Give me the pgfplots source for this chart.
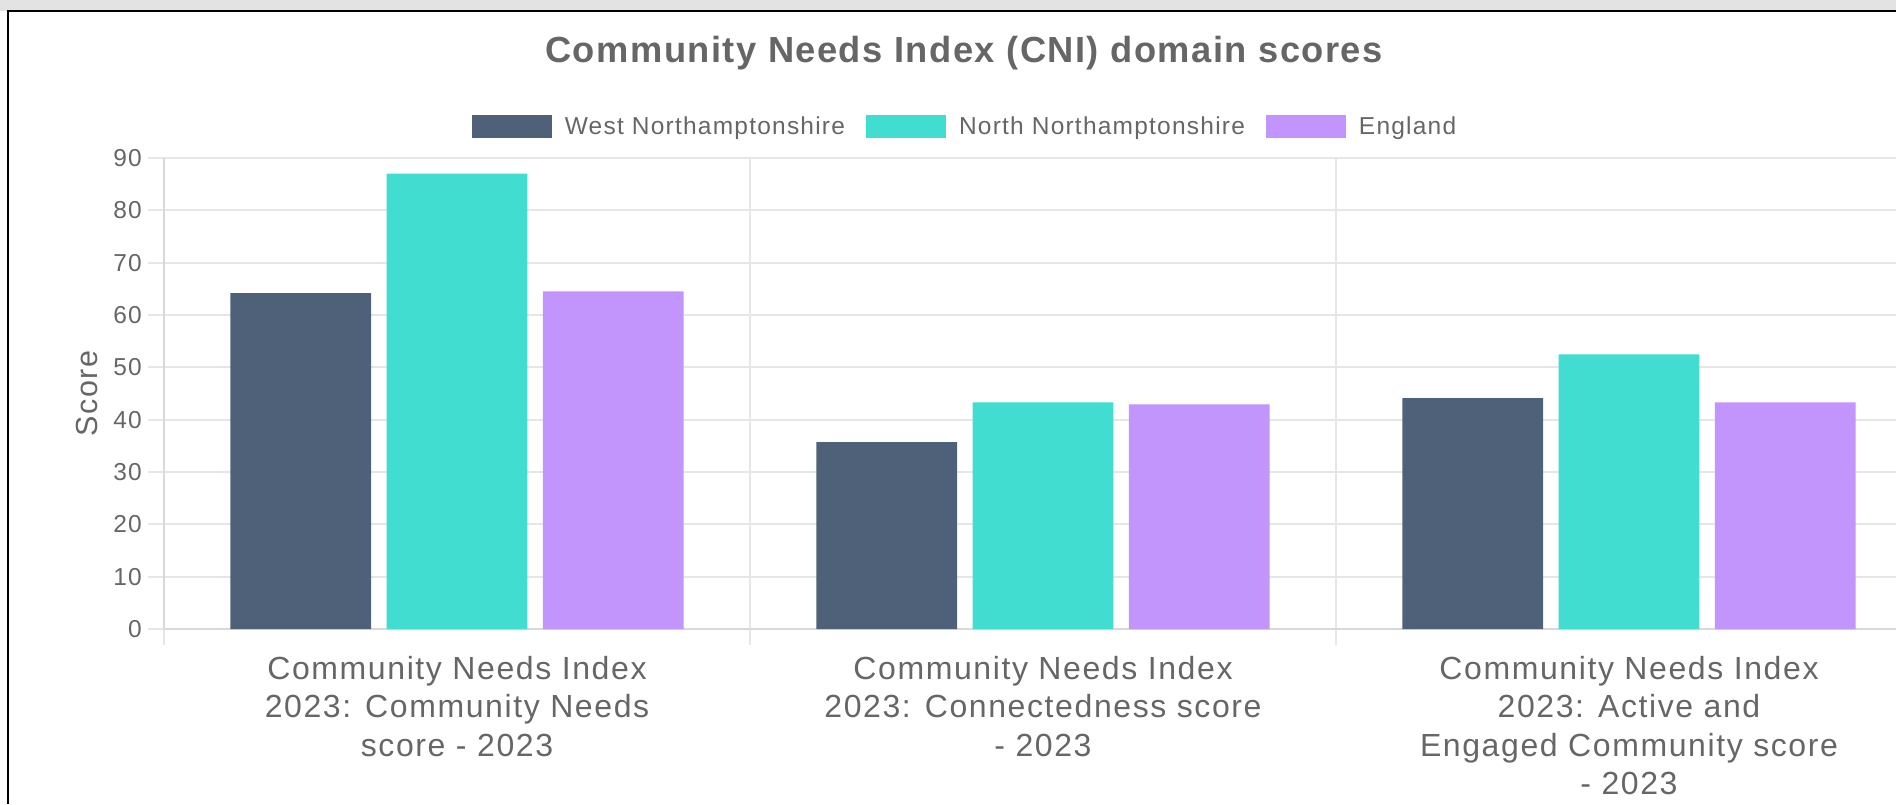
\documentclass[border=0pt]{standalone}
\usepackage{pgfplots}
\pgfplotsset{compat=1.18}
\usepackage{fontspec}
\setmainfont{Liberation Sans}[LetterSpace=5]
\newfontfamily\titlefam{Liberation Sans}[LetterSpace=4]
\newfontfamily\xlabfam{Liberation Sans}[LetterSpace=5]
\definecolor{westc}{HTML}{4F6079}
\definecolor{northc}{HTML}{40DDD0}
\definecolor{engc}{HTML}{C295FC}
\definecolor{textc}{HTML}{666666}
\definecolor{gridc}{HTML}{E6E6E6}
\definecolor{axisc}{HTML}{D9D9D9}
\definecolor{framegray}{HTML}{E3E3E3}
\begin{document}
\begin{tikzpicture}[x=1pt,y=1pt]
\useasboundingbox (0pt,0pt) rectangle (1896pt,804pt);
\fill[framegray] (0pt,793pt) rectangle (1896pt,804pt);
\draw[black,line width=2pt] (8pt,0pt) -- (8pt,793pt) -- (1896pt,793pt);
\node[anchor=base, text=textc, font={\fontsize{36.3}{43}\selectfont\titlefam\bfseries}] at (964pt,741pt) {Community Needs Index (CNI) domain scores};
\begin{axis}[
  at={(164pt,175pt)}, anchor=south west,
  width=1758pt, height=471pt, scale only axis,
  xmin=-0.5, xmax=2.5, ymin=0, ymax=90,
  axis x line*=bottom, axis y line*=left,
  axis line style={draw=axisc, line width=2pt, -},
  xtick={0,1,2},
  xticklabels={{Community Needs Index\\2023: Community Needs\\score - 2023},{Community Needs Index\\2023: Connectedness score\\- 2023},{Community Needs Index\\2023: Active and\\Engaged Community score\\- 2023}},
  xtick style={draw=none},
  minor xtick={-0.5,0.5,1.5,2.5},
  xminorgrids=true,
  minor x tick style={draw=gridc, line width=2pt},
  ytick={0,10,...,90},
  ymajorgrids=true,
  ytick style={draw=gridc, line width=2pt},
  major tick length=16pt, minor tick length=16pt,
  tick align=outside,
  major grid style={draw=gridc, line width=2pt},
  minor grid style={draw=gridc, line width=2pt},
  /pgf/number format/assume math mode=true,
  yticklabel style={font={\fontsize{24.5}{29}\selectfont}, text=textc, anchor=east, inner sep=0pt, xshift=-6pt},
  xticklabel style={font={\fontsize{32}{38.5}\selectfont\xlabfam}, text=textc, align=center, anchor=north, inner sep=0pt, yshift=-11pt},
  ylabel={Score},
  every axis y label/.style={at={(axis description cs:0,0.5)}, xshift=-77pt, rotate=90, anchor=center, font={\fontsize{30.5}{36}\selectfont}, text=textc},
  ybar, bar width=0.24,
  legend columns=3,
  legend style={at={(axis description cs:0.4551,1.0669)}, anchor=center, draw=none, fill=none,
    font={\fontsize{24.5}{29}\selectfont}, text=textc, inner sep=0pt,
    nodes={inner sep=0pt},
    /tikz/every odd column/.append style={column sep=13pt},
    /tikz/every even column/.append style={column sep=21pt}},
  legend image code/.code={\fill[#1] (0pt,-11.2pt) rectangle (80pt,11.8pt);},
]
\addplot[fill=westc, draw=none, bar shift=-0.26667] coordinates {(0,64.2) (1,35.7) (2,44.1)};
\addplot[fill=northc, draw=none, bar shift=0] coordinates {(0,87.0) (1,43.3) (2,52.5)};
\addplot[fill=engc, draw=none, bar shift=0.26667] coordinates {(0,64.5) (1,42.9) (2,43.3)};
\legend{West Northamptonshire, North Northamptonshire, England}
\end{axis}
\end{tikzpicture}
\end{document}
